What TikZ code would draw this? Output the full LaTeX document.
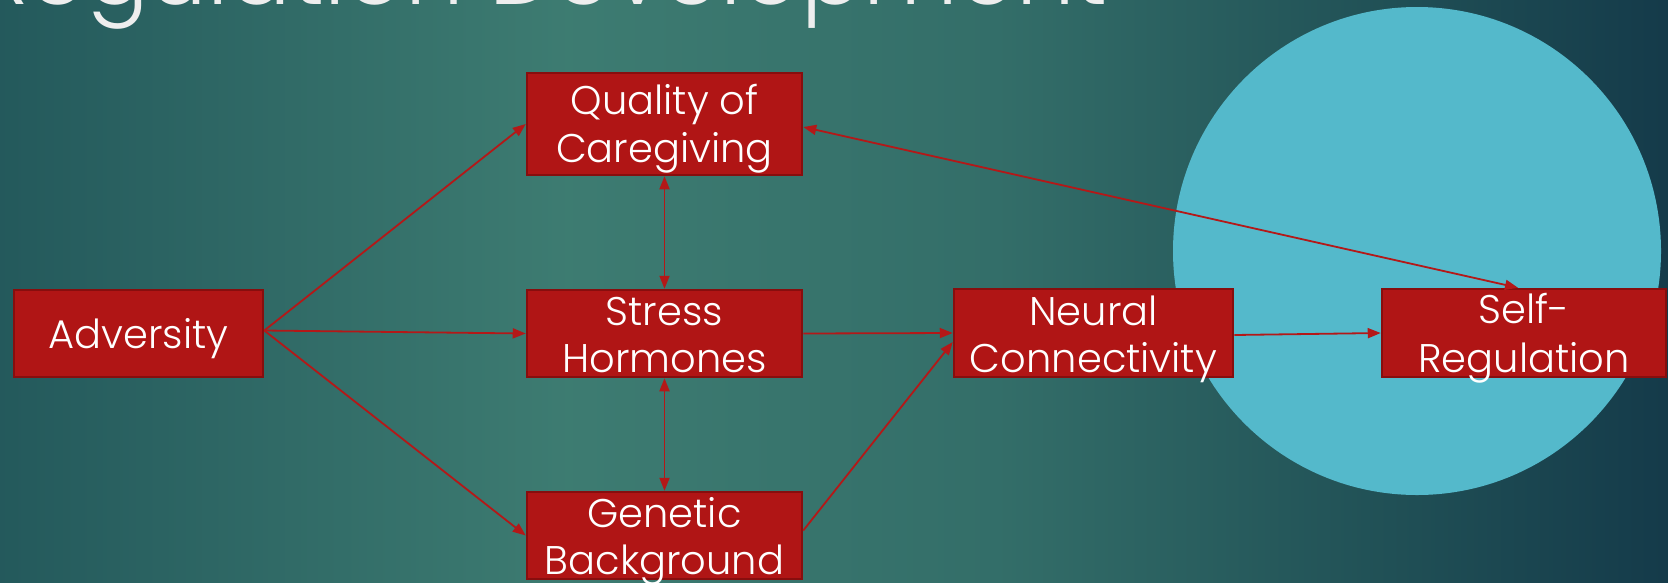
\documentclass[tikz,border=0pt]{standalone}
\usepackage{fontspec}
\setmainfont{Poppins Light}
\usetikzlibrary{arrows.meta,calc}
\definecolor{boxred}{RGB}{176,21,21}
\definecolor{boxedge}{RGB}{135,14,14}
\definecolor{arrowred}{RGB}{180,24,24}
\definecolor{circfill}{RGB}{84,185,203}
\definecolor{titlecol}{RGB}{238,238,238}
\pgfdeclarehorizontalshading{bgshade}{100bp}{rgb(0bp)=(0.14,0.35,0.36); rgb(25bp)=(0.14,0.35,0.36); rgb(42bp)=(0.24,0.485,0.445); rgb(55bp)=(0.20,0.43,0.41); rgb(66bp)=(0.13,0.32,0.34); rgb(75bp)=(0.08,0.23,0.29); rgb(100bp)=(0.08,0.23,0.29)}
\tikzset{
  box/.style={draw=boxedge, line width=2.5pt, fill=boxred, inner sep=0pt},
  txt/.style={text=white, font=\fontsize{40}{48}\selectfont, inner sep=0pt, anchor=base},
  arr/.style={draw=arrowred, line width=1.8pt, -{Triangle[length=13pt,width=10pt]}},
  darr/.style={draw=arrowred, line width=1.8pt, {Triangle[length=13pt,width=10pt]}-{Triangle[length=13pt,width=10pt]}}
}
\begin{document}
\begin{tikzpicture}[x=1pt,y=-1pt]
\useasboundingbox (0,0) rectangle (1668,582);
\shade[shading=bgshade] (0,0) rectangle (1668,582);
\fill[circfill] (1417,251) circle[radius=244pt];
\node[anchor=base east, text=titlecol, inner sep=0pt] (title) at (1108,4) {\resizebox{1133pt}{!}{Regulation Development}};
% boxes
\node[box, minimum width=249pt, minimum height=87pt] (adv) at (138.5,333.5) {};
\node[box, minimum width=275pt, minimum height=102pt] (qual) at (664.5,124) {};
\node[box, minimum width=275pt, minimum height=87pt] (stress) at (664.5,333.5) {};
\node[box, minimum width=275pt, minimum height=87pt] (gen) at (664.5,535.5) {};
\node[box, minimum width=279pt, minimum height=88pt] (neur) at (1093.5,333) {};
\node[box, minimum width=284pt, minimum height=88pt] (self) at (1524,333) {};
% texts
\node[txt] (advt) at (138.5,348) {Adversity};
\node[txt] (qualt1) at (664.5,114) {Quality of};
\node[txt] (qualt2) at (664.5,162) {Caregiving};
\node[txt] (stresst1) at (664.5,325) {Stress};
\node[txt] (stresst2) at (664.5,372) {Hormones};
\node[txt] (gent1) at (664.5,527) {Genetic};
\node[txt] (gent2) at (664.5,574) {Background};
\node[txt] (neurt1) at (1093.5,325) {Neural};
\node[txt] (neurt2) at (1093.5,372) {Connectivity};
\node[txt] (selft1) at (1524,323) {Self-};
\node[txt] (selft2) at (1524,372) {Regulation};
% connectors
\draw[arr] ($(adv.east)+(0,-3)$) -- (qual.west);
\draw[arr] ($(adv.east)+(0,-3)$) -- (stress.west);
\draw[arr] ($(adv.east)+(0,-3)$) -- (gen.west);
\draw[darr] (qual.south) -- (stress.north);
\draw[darr] (stress.south) -- (gen.north);
\draw[arr] (stress.east) -- (neur.west);
\draw[arr] ($(gen.east)+(0,-5)$) -- ($(neur.west)+(0,9)$);
\draw[arr] ($(neur.east)+(0,2)$) -- (self.west);
\draw[darr] ($(qual.east)+(0,3)$) -- ($(self.north)+(-6,0)$);
\end{tikzpicture}
\end{document}
